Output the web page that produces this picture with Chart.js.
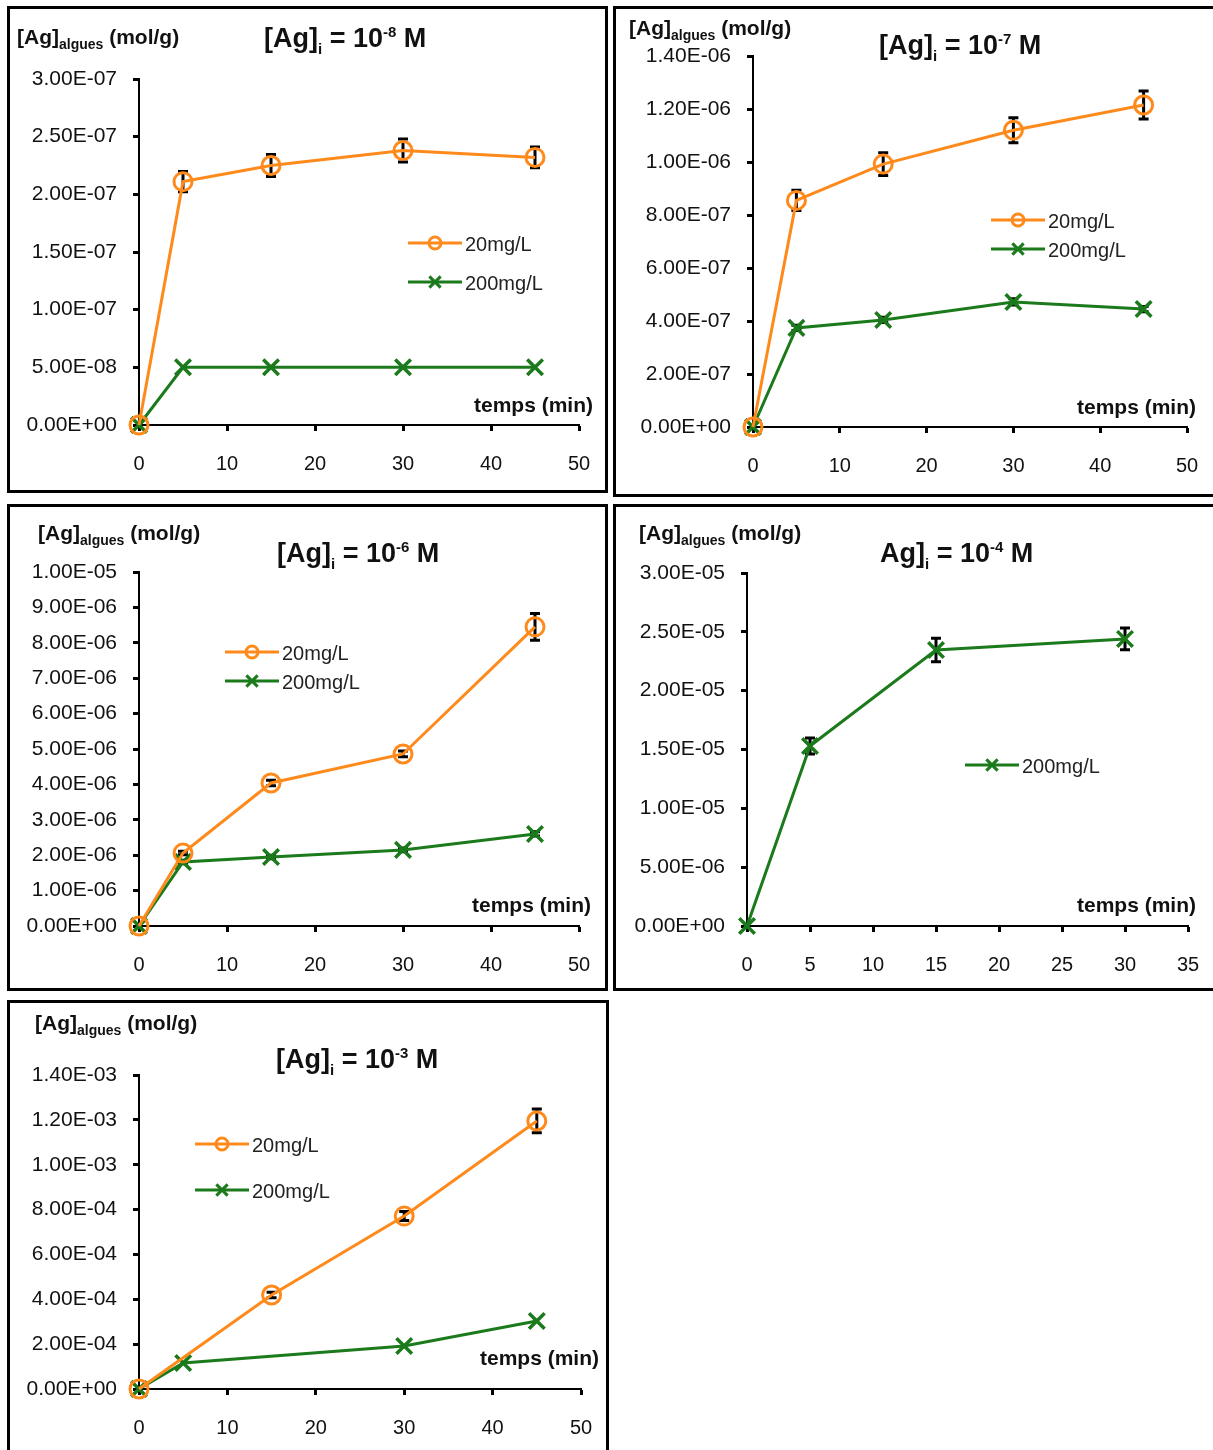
<!DOCTYPE html>
<html>
<head>
<meta charset="utf-8">
<script src="https://cdn.jsdelivr.net/npm/chart.js@4"></script>
<style>
  body { margin: 0; width: 1213px; height: 1450px; overflow: hidden; background: #fff;
         font-family: "Liberation Sans", Arial, sans-serif; position: relative; }
  .panel { position: absolute; border: 3px solid #000; box-sizing: border-box; background: #fff; }
  .panel canvas { position: absolute; left: 0; top: 0; }
  .txt { position: absolute; white-space: nowrap; line-height: 1; color: #111; }
  .title { font-weight: bold; font-size: 27px; }
  .ytitle { font-weight: bold; font-size: 21px; }
  .xtitle { font-weight: bold; font-size: 21px; }
  .sub { font-size: 15px; position: relative; top: 7px; }
  .sup { font-size: 15px; position: relative; top: -10px; }
  .sub2 { font-size: 14px; position: relative; top: 5px; }
</style>
</head>
<body>

<div class="panel" id="p1" style="left:7px;top:6px;width:601px;height:487px"><canvas id="c1"></canvas></div>
<div class="panel" id="p2" style="left:613px;top:6px;width:620px;height:491px"><canvas id="c2"></canvas></div>
<div class="panel" id="p3" style="left:7px;top:504px;width:601px;height:487px"><canvas id="c3"></canvas></div>
<div class="panel" id="p4" style="left:613px;top:504px;width:620px;height:487px"><canvas id="c4"></canvas></div>
<div class="panel" id="p5" style="left:7px;top:1000px;width:602px;height:470px"><canvas id="c5"></canvas></div>

<!-- titres -->
<div class="txt title" style="left:264px;top:25px">[Ag]<span class="sub">i</span> = 10<span class="sup">-8</span> M</div>
<div class="txt title" style="left:879px;top:32px">[Ag]<span class="sub">i</span> = 10<span class="sup">-7</span> M</div>
<div class="txt title" style="left:277px;top:540px">[Ag]<span class="sub">i</span> = 10<span class="sup">-6</span> M</div>
<div class="txt title" style="left:880px;top:540px">Ag]<span class="sub">i</span> = 10<span class="sup">-4</span> M</div>
<div class="txt title" style="left:276px;top:1046px">[Ag]<span class="sub">i</span> = 10<span class="sup">-3</span> M</div>

<!-- titres axe Y -->
<div class="txt ytitle" style="left:17px;top:26px">[Ag]<span class="sub2">algues</span> (mol/g)</div>
<div class="txt ytitle" style="left:629px;top:17px">[Ag]<span class="sub2">algues</span> (mol/g)</div>
<div class="txt ytitle" style="left:38px;top:522px">[Ag]<span class="sub2">algues</span> (mol/g)</div>
<div class="txt ytitle" style="left:639px;top:522px">[Ag]<span class="sub2">algues</span> (mol/g)</div>
<div class="txt ytitle" style="left:35px;top:1012px">[Ag]<span class="sub2">algues</span> (mol/g)</div>

<!-- titres axe X -->
<div class="txt xtitle" style="right:620px;top:394px">temps (min)</div>
<div class="txt xtitle" style="right:17px;top:396px">temps (min)</div>
<div class="txt xtitle" style="right:622px;top:894px">temps (min)</div>
<div class="txt xtitle" style="right:17px;top:894px">temps (min)</div>
<div class="txt xtitle" style="right:614px;top:1347px">temps (min)</div>

<script>
// temps (min)
const temps = [0, 5, 15, 30, 45];
const temps4 = [0, 5, 15, 30];
const temps5_20 = [0, 15, 30, 45];
const temps5_200 = [0, 5, 30, 45];

// [Ag]i = 1e-8 M
const p1_20 = [0, 2.11e-7, 2.25e-7, 2.38e-7, 2.32e-7];
const p1_20err = [0, 0.087e-7, 0.095e-7, 0.10e-7, 0.09e-7];
const p1_200 = [0, 5.0e-8, 5.0e-8, 5.0e-8, 5.0e-8];
const p1_200err = [0, 0, 0, 0, 0];
const p1_yTicks = [0, 5e-8, 1e-7, 1.5e-7, 2e-7, 2.5e-7, 3e-7];

// [Ag]i = 1e-7 M
const p2_20 = [0, 8.55e-7, 9.92e-7, 1.12e-6, 1.215e-6];
const p2_20err = [0, 0.038e-6, 0.043e-6, 0.047e-6, 0.053e-6];
const p2_200 = [0, 3.74e-7, 4.04e-7, 4.72e-7, 4.45e-7];
const p2_200err = [0, 0.01e-6, 0.01e-6, 0.012e-6, 0.01e-6];
const p2_yTicks = [0, 2e-7, 4e-7, 6e-7, 8e-7, 1e-6, 1.2e-6, 1.4e-6];

// [Ag]i = 1e-6 M
const p3_20 = [0, 2.06e-6, 4.04e-6, 4.86e-6, 8.45e-6];
const p3_20err = [0, 0.05e-6, 0.08e-6, 0.08e-6, 0.38e-6];
const p3_200 = [0, 1.81e-6, 1.95e-6, 2.15e-6, 2.6e-6];
const p3_200err = [0, 0.05e-6, 0.05e-6, 0.05e-6, 0.06e-6];
const p3_yTicks = [0, 1e-6, 2e-6, 3e-6, 4e-6, 5e-6, 6e-6, 7e-6, 8e-6, 9e-6, 1e-5];

// [Ag]i = 1e-4 M
const p4_200 = [0, 1.53e-5, 2.345e-5, 2.44e-5];
const p4_200err = [0, 0.068e-5, 0.10e-5, 0.093e-5];
const p4_yTicks = [0, 5e-6, 1e-5, 1.5e-5, 2e-5, 2.5e-5, 3e-5];

// [Ag]i = 1e-3 M
const p5_20 = [0, 4.19e-4, 7.71e-4, 1.195e-3];
const p5_20err = [0, 0.12e-4, 0.2e-4, 0.53e-4];
const p5_200 = [0, 1.16e-4, 1.92e-4, 3.03e-4];
const p5_200err = [0, 0, 0, 0];
const p5_yTicks = [0, 2e-4, 4e-4, 6e-4, 8e-4, 1e-3, 1.2e-3, 1.4e-3];

const ORANGE = '#ff8a1c';
const GREEN = '#1b7a1b';
const FONT = '"Liberation Sans", Arial, sans-serif';

// format Excel 0.00E+00
function sci(v) {
    const parts = v.toExponential(2).split('e');
    const e = parts[1];
    return parts[0] + 'E' + e[0] + e.slice(1).padStart(2, '0');
}

function serie20(xs, ys, errs) {
    return {
        label: '20mg/L',
        data: xs.map((x, i) => ({ x: x, y: ys[i] })),
        errors: errs,
        borderColor: ORANGE, backgroundColor: 'rgba(0,0,0,0)',
        borderWidth: 3, pointStyle: 'circle', pointRadius: 9,
        pointBorderWidth: 3, pointBorderColor: ORANGE, pointBackgroundColor: 'rgba(255,255,255,0)',
        clip: false
    };
}

function serie200(xs, ys, errs) {
    return {
        label: '200mg/L',
        data: xs.map((x, i) => ({ x: x, y: ys[i] })),
        errors: errs,
        borderColor: GREEN, backgroundColor: GREEN,
        borderWidth: 3, pointStyle: 'crossRot', pointRadius: 11,
        pointBorderWidth: 3.5, pointBorderColor: GREEN,
        clip: false
    };
}

// barres d'erreur
const errorBars = {
    id: 'errorBars',
    beforeDatasetsDraw(chart) {
        const ctx = chart.ctx;
        const yScale = chart.scales.y;
        chart.data.datasets.forEach((ds, di) => {
            if (!ds.errors) return;
            const meta = chart.getDatasetMeta(di);
            meta.data.forEach((pt, j) => {
                const err = ds.errors[j];
                if (!err) return;
                const v = ds.data[j].y;
                const yTop = yScale.getPixelForValue(v + err);
                const yBot = yScale.getPixelForValue(v - err);
                if (yBot - yTop < 3) return;
                ctx.save();
                ctx.strokeStyle = '#000';
                ctx.lineWidth = 3;
                ctx.beginPath();
                ctx.moveTo(pt.x, yTop); ctx.lineTo(pt.x, yBot);
                ctx.moveTo(pt.x - 5, yTop); ctx.lineTo(pt.x + 5, yTop);
                ctx.moveTo(pt.x - 5, yBot); ctx.lineTo(pt.x + 5, yBot);
                ctx.stroke();
                ctx.restore();
            });
        });
    }
};

// légende libre, placée comme dans Excel
const freeLegend = {
    id: 'freeLegend',
    afterDraw(chart, args, opts) {
        const ctx = chart.ctx;
        chart.data.datasets.forEach((ds, i) => {
            const x = opts.x, y = opts.y + i * opts.gap;
            ctx.save();
            ctx.strokeStyle = ds.borderColor;
            ctx.lineWidth = 3;
            ctx.beginPath();
            ctx.moveTo(x, y); ctx.lineTo(x + 54, y);
            ctx.stroke();
            Chart.helpers.drawPoint(ctx, {
                pointStyle: ds.pointStyle, radius: ds.pointStyle === 'circle' ? 6 : 8,
                borderWidth: 3, rotation: 0
            }, x + 27, y);
            ctx.fillStyle = '#222';
            ctx.font = '20px ' + FONT;
            ctx.textBaseline = 'middle';
            ctx.fillText(ds.label, x + 57, y + 2);
            ctx.restore();
        });
    }
};

function makeChart(id, panel, area, datasets, yTicks, xMax, xStep, legend) {
    const box = document.getElementById(panel);
    const b = 3;
    const innerLeft = box.offsetLeft + b, innerTop = box.offsetTop + b;
    const w = box.offsetWidth - 2 * b, h = box.offsetHeight - 2 * b;
    const canvas = document.getElementById(id);
    canvas.width = w; canvas.height = h;
    canvas.style.width = w + 'px'; canvas.style.height = h + 'px';

    // zone de tracé voulue, en coordonnées du canvas
    const yWidth = area[0] - innerLeft;
    const xHeight = 50;
    const padding = {
        left: 0,
        top: area[1] - innerTop,
        right: w - (area[2] - innerLeft),
        bottom: h - (area[3] - innerTop) - xHeight
    };

    return new Chart(canvas.getContext('2d'), {
        type: 'line',
        data: { datasets: datasets },
        options: {
            responsive: false,
            animation: false,
            devicePixelRatio: 1,
            layout: { padding: padding },
            plugins: {
                legend: { display: false },
                tooltip: { enabled: false },
                freeLegend: { x: legend[0] - innerLeft, y: legend[1] - innerTop, gap: legend[2] }
            },
            scales: {
                x: {
                    type: 'linear', min: 0, max: xMax,
                    grid: { drawOnChartArea: false, drawTicks: true, tickLength: 6, tickColor: '#000', tickWidth: 3 },
                    border: { color: '#000', width: 2 },
                    ticks: { stepSize: xStep, color: '#111', padding: 21,
                             font: { family: FONT, size: 20 } },
                    // la marge du dernier libellé ne doit pas réduire la zone de tracé
                    afterFit: s => { s.height = xHeight; s.paddingLeft = 0; s.paddingRight = 0; }
                },
                y: {
                    min: 0, max: yTicks[yTicks.length - 1],
                    grid: { drawOnChartArea: false, drawTicks: true, tickLength: 6, tickColor: '#000', tickWidth: 3 },
                    border: { color: '#000', width: 2 },
                    ticks: { color: '#111', padding: 16, callback: v => sci(v),
                             font: { family: FONT, size: 21 } },
                    afterBuildTicks: s => { s.ticks = yTicks.map(v => ({ value: v })); },
                    afterFit: s => { s.width = yWidth; }
                }
            }
        },
        plugins: [errorBars, freeLegend]
    });
}

makeChart('c1', 'p1', [139, 79, 579, 425],
    [serie20(temps, p1_20, p1_20err), serie200(temps, p1_200, p1_200err)],
    p1_yTicks, 50, 10, [408, 243, 39]);

makeChart('c2', 'p2', [753, 56, 1187, 427],
    [serie20(temps, p2_20, p2_20err), serie200(temps, p2_200, p2_200err)],
    p2_yTicks, 50, 10, [991, 220, 29]);

makeChart('c3', 'p3', [139, 572, 579, 926],
    [serie20(temps, p3_20, p3_20err), serie200(temps, p3_200, p3_200err)],
    p3_yTicks, 50, 10, [225, 652, 29]);

makeChart('c4', 'p4', [747, 573, 1188, 926],
    [serie200(temps4, p4_200, p4_200err)],
    p4_yTicks, 35, 5, [965, 765, 29]);

makeChart('c5', 'p5', [139, 1075, 581, 1389],
    [serie20(temps5_20, p5_20, p5_20err), serie200(temps5_200, p5_200, p5_200err)],
    p5_yTicks, 50, 10, [195, 1144, 46]);
</script>
</body>
</html>
